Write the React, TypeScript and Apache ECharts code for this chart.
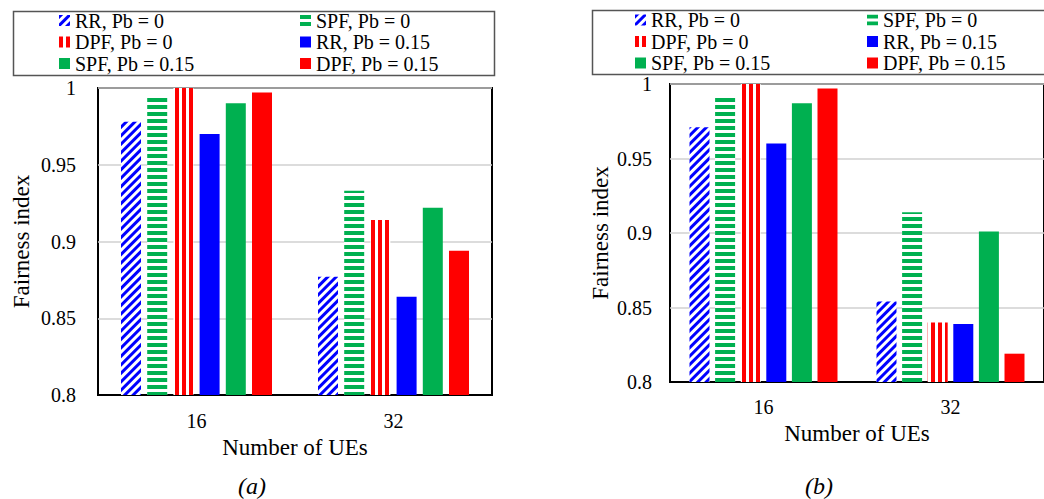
import React, { useEffect, useRef } from 'react';
import * as echarts from 'echarts';

const categories = ['16', '32'];
const seriesNames = ['RR, Pb = 0', 'SPF, Pb = 0', 'DPF, Pb = 0', 'RR, Pb = 0.15', 'SPF, Pb = 0.15', 'DPF, Pb = 0.15'];
const xTitle = 'Number of UEs';
const yTitle = 'Fairness index';

// chart (a)
const aRR0 = [0.978, 0.877];
const aSPF0 = [0.995, 0.933];
const aDPF0 = [1.0, 0.914];
const aRR15 = [0.970, 0.864];
const aSPF15 = [0.990, 0.922];
const aDPF15 = [0.997, 0.894];

// chart (b)
const bRR0 = [0.971, 0.854];
const bSPF0 = [0.991, 0.914];
const bDPF0 = [1.0, 0.840];
const bRR15 = [0.960, 0.839];
const bSPF15 = [0.987, 0.901];
const bDPF15 = [0.997, 0.819];

const yTicks = { min: 0.8, max: 1, interval: 0.05 };

const BLUE = '#0000ff';
const GREEN = '#00b050';
const RED = '#ff0000';
const FONT = "'Times New Roman', 'Liberation Serif', serif";

function styleFor(i: number): any {
  switch (i) {
    case 0:
      return {
        color: '#ffffff',
        decal: { symbol: 'rect', symbolSize: 1, color: BLUE, dashArrayX: [1, 0], dashArrayY: [3, 3], rotation: -Math.PI / 4 },
      };
    case 1:
      return {
        color: '#ffffff',
        decal: { symbol: 'rect', symbolSize: 1, color: GREEN, dashArrayX: [1, 0], dashArrayY: [4, 3], rotation: 0 },
      };
    case 2:
      return {
        color: '#ffffff',
        decal: { symbol: 'rect', symbolSize: 1, color: RED, dashArrayX: [4, 3], dashArrayY: [1, 0], rotation: 0 },
      };
    case 3:
      return { color: BLUE };
    case 4:
      return { color: GREEN };
    default:
      return { color: RED };
  }
}

export default function App() {
  const ref = useRef<HTMLDivElement>(null);
  useEffect(() => {
    if (!ref.current) return;
    const chart = echarts.init(ref.current, undefined, { renderer: 'svg' });
    const dataA = [aRR0, aSPF0, aDPF0, aRR15, aSPF15, aDPF15];
    const dataB = [bRR0, bSPF0, bDPF0, bRR15, bSPF15, bDPF15];

    const series: any[] = [];
    dataA.forEach((d, i) => {
      series.push({
        type: 'bar', name: seriesNames[i], xAxisIndex: 0, yAxisIndex: 0,
        data: d, barWidth: 20, barGap: '31%', itemStyle: styleFor(i),
      });
    });
    dataB.forEach((d, i) => {
      series.push({
        type: 'bar', name: seriesNames[i], xAxisIndex: 1, yAxisIndex: 1,
        data: d, barWidth: 20, barGap: '28%', itemStyle: styleFor(i),
      });
    });

    const xAxisBase = (gi: number, margin: number, nameGap: number) => ({
      type: 'category', gridIndex: gi, data: categories,
      axisTick: { show: false },
      axisLine: { lineStyle: { color: '#000', width: 2 } },
      axisLabel: { color: '#000', fontFamily: 'Liberation Serif', fontSize: 20, margin },
      name: xTitle, nameLocation: 'middle', nameGap,
      nameTextStyle: { color: '#000', fontFamily: 'serif', fontSize: 23 },
    });
    const yAxisBase = (gi: number, margin: number, nameGap: number) => ({
      type: 'value', gridIndex: gi, ...yTicks,
      axisTick: { show: false },
      axisLine: { show: false },
      axisLabel: { color: '#000', fontFamily: 'serif', fontSize: 20, margin },
      splitLine: { lineStyle: { color: '#d0d0d0', width: 1.5 } },
      name: yTitle, nameLocation: 'middle', nameGap,
      nameTextStyle: { color: '#000', fontFamily: 'Times New Roman', fontSize: 23 },
    });

    const legendBase = (left: number, top: number, names: string[]) => ({
      show: true, orient: 'vertical', left, top, padding: 0, itemGap: 0.5,
      itemWidth: 11, itemHeight: 11, itemStyle: { borderWidth: 0 }, itemTextGap: 3, selectedMode: false,
      textStyle: { color: '#000', fontFamily: FONT, fontSize: 20, lineHeight: 21 },
      data: names.map((n) => ({ name: n, icon: 'rect' })),
    });
    const col1 = [seriesNames[0], seriesNames[2], seriesNames[4]];
    const col2 = [seriesNames[1], seriesNames[3], seriesNames[5]];

    chart.setOption({
      animation: false,
      backgroundColor: '#ffffff',
      grid: [
        { left: 98, top: 88, right: 552, bottom: 104, show: true, borderColor: '#000', borderWidth: 2, backgroundColor: 'transparent' },
        { left: 670, top: 84, right: -7, bottom: 117, show: true, borderColor: '#000', borderWidth: 2, backgroundColor: 'transparent' },
      ],
      xAxis: [xAxisBase(0, 16, 35), xAxisBase(1, 15, 32)],
      yAxis: [yAxisBase(0, 22, 65), yAxisBase(1, 18, 58)],
      legend: [
        legendBase(59, 10, col1),
        legendBase(300, 10, col2),
        legendBase(635, 9.5, col1),
        legendBase(867, 9.5, col2),
      ],
      graphic: [
        { type: 'rect', left: 11, top: 9, shape: { x: 0, y: 0, width: 481, height: 64 }, style: { fill: 'none', stroke: '#555', lineWidth: 1.5 }, z: -1 },
        { type: 'rect', left: 590, top: 8, shape: { x: 0, y: 0, width: 470, height: 64 }, style: { fill: 'none', stroke: '#555', lineWidth: 1.5 }, z: -1 },
        { type: 'text', left: 238, top: 474, style: { text: '(a)', fontFamily: FONT, fontSize: 24, fontStyle: 'italic', fill: '#000' } },
        { type: 'text', left: 805, top: 474, style: { text: '(b)', fontFamily: FONT, fontSize: 24, fontStyle: 'italic', fill: '#000' } },
      ],
      series,
    });
    return () => chart.dispose();
  }, []);
  return (
    <div
      ref={ref}
      style={{ position: 'fixed', left: 0, top: 0, width: 1044, height: 499, background: '#fff' }}
    />
  );
}
